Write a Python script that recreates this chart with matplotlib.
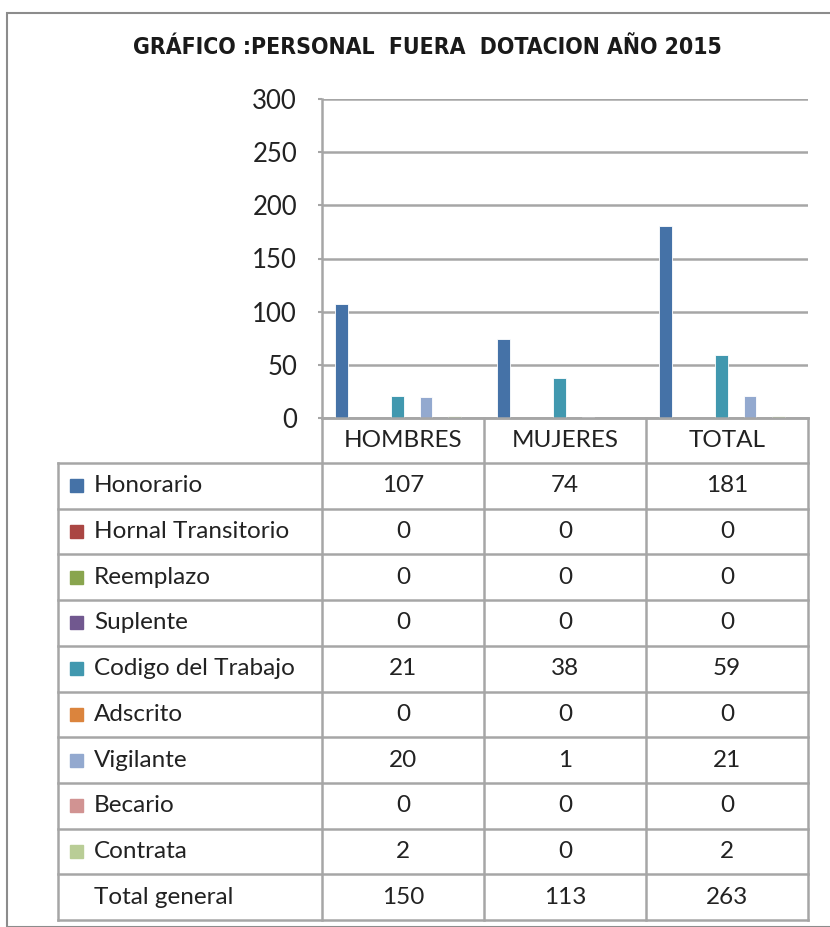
import matplotlib.pyplot as plt
from matplotlib.patches import Rectangle

# Datos del grafico
categorias = ["HOMBRES", "MUJERES", "TOTAL"]
series = ["Honorario", "Hornal Transitorio", "Reemplazo", "Suplente",
          "Codigo del Trabajo", "Adscrito", "Vigilante", "Becario", "Contrata"]
honorario = [107, 74, 181]
hornal_transitorio = [0, 0, 0]
reemplazo = [0, 0, 0]
suplente = [0, 0, 0]
codigo_trabajo = [21, 38, 59]
adscrito = [0, 0, 0]
vigilante = [20, 1, 21]
becario = [0, 0, 0]
contrata = [2, 0, 2]
total_general = [150, 113, 263]

colores = ["#4572A7", "#AA4643", "#89A54E", "#71588F", "#4198AF",
           "#DB843D", "#93A9CF", "#D19392", "#B9CD96"]

valores = [honorario, hornal_transitorio, reemplazo, suplente, codigo_trabajo,
           adscrito, vigilante, becario, contrata]

W, H = 830, 927
gris = "#a6a6a6"
fuente = ["Lato", "DejaVu Sans"]

fig = plt.figure(figsize=(W / 100, H / 100), dpi=100)

# borde exterior del grafico
fig.patches.append(Rectangle((7 / W, 0), 1, 1 - 13 / H, transform=fig.transFigure,
                             fill=False, edgecolor="#8c8c8c", lw=1.5))

fig.text(0.5 * (132 + 722) / W, 1 - 48 / H, "GRÁFICO :PERSONAL  FUERA  DOTACION AÑO 2015",
         ha="center", va="center", fontsize=16.5, fontweight="bold", fontstretch="condensed",
         family=["DejaVu Sans"], color="#1a1a1a")

# area del grafico
x0, x1, ytop, ybot = 322, 808, 99, 418
ax = fig.add_axes([x0 / W, 1 - ybot / H, (x1 - x0) / W, (ybot - ytop) / H])
ancho = 0.08
paso = 0.087
inicio = 0.08
for k, (vals, col) in enumerate(zip(valores, colores)):
    xs = [i + inicio + k * paso + ancho / 2 for i in range(len(categorias))]
    ax.bar(xs, vals, width=ancho, color=col, edgecolor="white", lw=0.6, zorder=3)

ax.set_xlim(0, 3)
ax.set_ylim(0, 300)
ax.set_yticks(range(0, 301, 50))
ax.set_xticks([])
ax.grid(axis="y", color=gris, lw=1.8, zorder=0)
for s in ["top", "right"]:
    ax.spines[s].set_visible(False)
for s in ["left", "bottom"]:
    ax.spines[s].set_color(gris)
    ax.spines[s].set_linewidth(1.8)
ax.tick_params(axis="y", length=3, color=gris, width=1.5, pad=15, labelsize=18.5, labelcolor="#222222")
for t in ax.get_yticklabels():
    t.set_family(fuente)

# tabla de datos
tab = fig.add_axes([0, 0, 1, 1])
tab.set_xlim(0, W)
tab.set_ylim(H, 0)
tab.axis("off")
tab.patch.set_alpha(0)

col_x = [58, 322, 484, 646, 808]
fila0 = 463
alto = 45.7
nfilas = len(series) + 1
yfin = fila0 + nfilas * alto
lc = dict(color=gris, lw=1.8)

tab.plot([x0, x1], [ybot, ybot], **lc)
for j in range(nfilas + 1):
    tab.plot([col_x[0], col_x[-1]], [fila0 + j * alto] * 2, **lc)
tab.plot([col_x[0]] * 2, [fila0, yfin], **lc)
for cx in col_x[1:]:
    tab.plot([cx, cx], [ybot, yfin], **lc)

txt = dict(fontsize=17.5, family=fuente, color="#222222", va="center")
for i, c in enumerate(categorias):
    tab.text((col_x[i + 1] + col_x[i + 2]) / 2, (ybot + fila0) / 2, c, ha="center", **txt)

etiquetas = series + ["Total general"]
filas = valores + [total_general]
for j, (nombre, vals) in enumerate(zip(etiquetas, filas)):
    yc = fila0 + (j + 0.5) * alto
    if j < len(series):
        tab.add_patch(Rectangle((70, yc - 6.5), 13, 13, color=colores[j]))
    tab.text(94, yc, nombre, ha="left", **txt)
    for i, v in enumerate(vals):
        tab.text((col_x[i + 1] + col_x[i + 2]) / 2, yc, str(v), ha="center", **txt)

fig.savefig("out.png", dpi=100)
